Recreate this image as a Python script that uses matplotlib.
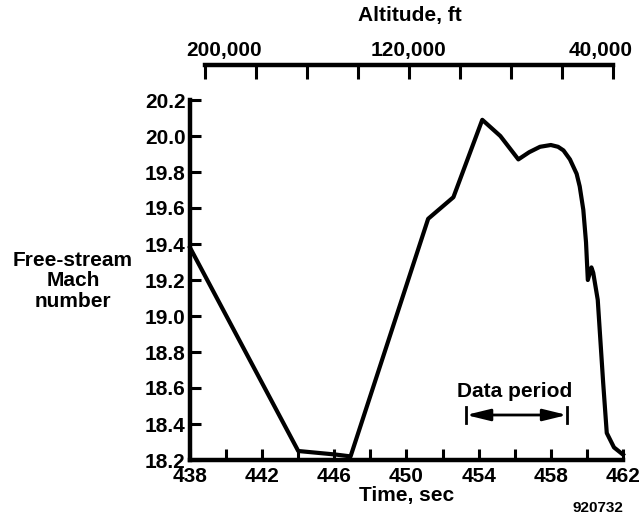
import matplotlib
matplotlib.use("Agg")
import matplotlib.pyplot as plt

# Free-stream Mach number history
time_s = [438.0, 444.0, 446.1, 446.9, 451.2, 452.6, 454.2, 455.2, 456.2, 456.8,
          457.4, 458.0, 458.4, 458.7, 459.06, 459.43, 459.6, 459.8, 459.95, 460.05,
          460.25, 460.35, 460.6, 460.9, 461.1, 461.5, 462.0]
mach = [19.38, 18.25, 18.23, 18.22, 19.54, 19.66, 20.09, 20.00, 19.87, 19.91,
        19.94, 19.95, 19.94, 19.92, 19.87, 19.79, 19.72, 19.59, 19.41, 19.20,
        19.27, 19.24, 19.09, 18.63, 18.35, 18.27, 18.23]

time_ticks = [438, 440, 442, 444, 446, 448, 450, 452, 454, 456, 458, 460, 462]
time_labels = ["438", "", "442", "", "446", "", "450", "", "454", "", "458", "", "462"]
mach_ticks = [18.2, 18.4, 18.6, 18.8, 19.0, 19.2, 19.4, 19.6, 19.8, 20.0, 20.2]

alt_ticks = [200000, 180000, 160000, 140000, 120000, 100000, 80000, 60000, 40000]
alt_labels = {200000: "200,000", 120000: "120,000", 40000: "40,000"}

data_period = (453.3, 458.9)

plt.rcParams["font.family"] = ["Liberation Sans", "DejaVu Sans"]
plt.rcParams["font.weight"] = "bold"
FS = 15

fig = plt.figure(figsize=(6.43, 5.20), dpi=100)
W, H = 643, 520

ax = fig.add_axes([190 / W, 1 - 460 / H, (623 - 190) / W, (460 - 100) / H])
ax.plot(time_s, mach, color="black", lw=3.0, solid_joinstyle="round", clip_on=False)
ax.set_xlim(438, 462)
ax.set_ylim(18.2, 20.2)
for s in ("top", "right"):
    ax.spines[s].set_visible(False)
for s in ("left", "bottom"):
    ax.spines[s].set_linewidth(3.2)
ax.set_xticks(time_ticks)
ax.set_xticklabels(time_labels, fontsize=FS, fontweight="bold")
ax.set_yticks(mach_ticks)
ax.set_yticklabels([f"{v:.1f}" for v in mach_ticks], fontsize=FS, fontweight="bold")
ax.tick_params(axis="both", direction="in", length=8, width=2.2, pad=3)
ax.tick_params(axis="x", pad=5)
ax.set_xlabel("Time, sec", fontsize=FS, fontweight="bold", labelpad=0)

# Data period marker
y_arrow = 18.45
ax.annotate("", xy=(data_period[0], y_arrow), xytext=(data_period[1], y_arrow),
            arrowprops=dict(arrowstyle="<|-|>,head_length=0.9,head_width=0.22",
                            color="black", lw=2.0, mutation_scale=16,
                            shrinkA=0, shrinkB=0))
for xp in data_period:
    ax.plot([xp, xp], [y_arrow - 0.045, y_arrow + 0.045], color="black", lw=2.0)
ax.text(456.0, 18.58, "Data period", fontsize=FS, fontweight="bold",
        ha="center", va="center")

# Altitude scale along the top
ax2 = fig.add_axes([205 / W, 1 - 66 / H, (613 - 205) / W, 0.001])
ax2.set_xlim(200000, 40000)
ax2.set_ylim(0, 1)
for s in ("bottom", "left", "right"):
    ax2.spines[s].set_visible(False)
ax2.spines["top"].set_linewidth(3.2)
ax2.set_yticks([])
ax2.xaxis.set_ticks_position("top")
ax2.set_xticks(alt_ticks)
ax2.set_xticklabels([""] * len(alt_ticks))
ax2.tick_params(axis="x", direction="in", length=10, width=2.2)
ax2.patch.set_visible(False)
label_shift = {200000: 14, 120000: 0, 40000: -9}
for val, txt in alt_labels.items():
    ax2.annotate(txt, xy=(val, 1), xytext=(label_shift[val], 4),
                 textcoords="offset points", ha="center", va="bottom",
                 fontsize=FS, fontweight="bold", annotation_clip=False)
fig.text(410 / W, 1 - 16 / H, "Altitude, ft", fontsize=FS, fontweight="bold",
         ha="center", va="center")

fig.text(73 / W, 1 - 281 / H, "Free-stream\nMach\nnumber", fontsize=FS,
         fontweight="bold", ha="center", va="center", linespacing=1.12)
fig.text(598 / W, 1 - 508 / H, "920732", fontsize=11, fontweight="bold",
         ha="center", va="center")

fig.savefig("out.png", dpi=100)
